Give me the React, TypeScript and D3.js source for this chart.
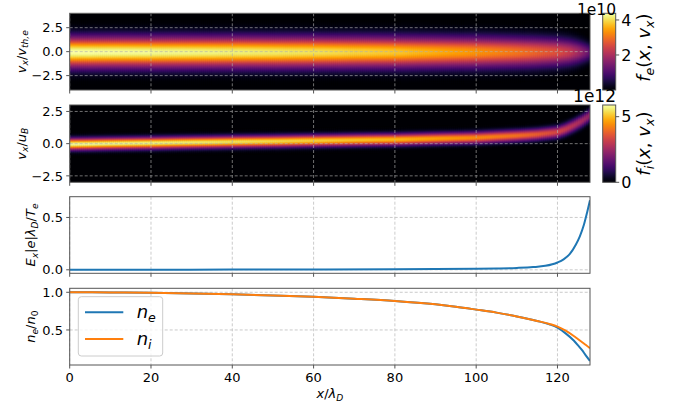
import React, { useMemo } from "react";
import * as d3 from "d3";

// ---------------- data ----------------
const X_TICKS = [0, 20, 40, 60, 80, 100, 120];
const X_DOMAIN = [0, 128];

// electron distribution: peak (×1e10) and thermal width along x
const feX = [0, 20, 40, 60, 80, 100, 110, 115, 120, 123, 125, 127, 128];
const fePeak = [4.38, 4.3, 4.2, 4.05, 3.8, 3.35, 3.05, 2.85, 2.6, 2.3, 1.95, 1.45, 1.15];
const feWidth = [1.05, 1.05, 1.05, 1.05, 1.05, 1.04, 1.02, 1.0, 0.96, 0.9, 0.82, 0.7, 0.62];
const FE_MAX = 4.38;

// ion distribution: peak (×1e12), mean velocity (u_B) and width along x
const fiX = [0, 20, 40, 60, 80, 100, 110, 115, 120, 122, 124, 126, 128];
const fiPeak = [5.85, 5.7, 5.5, 5.25, 4.95, 4.4, 4.05, 3.75, 3.35, 3.1, 2.85, 2.6, 2.3];
const fiMean = [0, 0.09, 0.18, 0.27, 0.36, 0.5, 0.66, 0.76, 0.93, 1.15, 1.45, 1.8, 2.25];
const fiWidth = [0.3, 0.3, 0.3, 0.3, 0.3, 0.3, 0.3, 0.3, 0.31, 0.32, 0.33, 0.34, 0.35];
const FI_MAX = 5.89;

// electric field
const eFieldX = [0, 20, 40, 60, 80, 90, 100, 105, 110, 114, 117, 120, 121.5, 123, 124.5, 125.5, 126.5, 127.3, 128];
const eField = [0, 0.001, 0.002, 0.003, 0.005, 0.007, 0.01, 0.013, 0.018, 0.026, 0.038, 0.07, 0.1, 0.15, 0.24, 0.32, 0.43, 0.55, 0.665];

// densities
const densX = [0, 10, 20, 30, 40, 50, 60, 70, 80, 90, 95, 100, 105, 110, 115, 118, 120, 122, 124, 125, 126, 127, 128];
const nI = [1.0, 0.998, 0.993, 0.985, 0.973, 0.958, 0.94, 0.915, 0.885, 0.84, 0.808, 0.77, 0.73, 0.68, 0.62, 0.58, 0.545, 0.49, 0.42, 0.38, 0.34, 0.3, 0.257];
const nE = [1.0, 0.998, 0.993, 0.985, 0.973, 0.958, 0.94, 0.915, 0.885, 0.84, 0.808, 0.77, 0.73, 0.68, 0.62, 0.575, 0.53, 0.455, 0.36, 0.3, 0.235, 0.16, 0.088];

// ---------------- layout ----------------
const FONT = "DejaVu Sans, sans-serif";
const X0 = 69.7, X1 = 590;
const P1 = [13.3, 90];
const P2 = [105, 182.3];
const P3 = [196.7, 273.3];
const P4 = [288.3, 365];
const CB_X0 = 602.7, CB_X1 = 615.7;
const SPINE = "#555";
const GRID = "#b0b0b0";
const BLUE = "#1f77b4";
const ORANGE = "#ff7f0e";

type Seg = { t: string; it?: boolean; sub?: boolean };

function MathText({ segs, size, ...rest }: { segs: Seg[]; size: number; [k: string]: any }) {
  let cur = 0;
  const shift = size * 0.22;
  return (
    <text fontFamily={FONT} fontSize={size} {...rest}>
      {segs.map((s, i) => {
        const target = s.sub ? shift : 0;
        const dy = target - cur;
        cur = target;
        return (
          <tspan key={i} dy={dy} fontStyle={s.it ? "italic" : "normal"} fontSize={s.sub ? size * 0.7 : size}>
            {s.t}
          </tspan>
        );
      })}
    </text>
  );
}

const x = d3.scaleLinear().domain(X_DOMAIN).range([X0, X1]);
const y1 = d3.scaleLinear().domain([-4, 4]).range([P1[1], P1[0]]);
const y2 = d3.scaleLinear().domain([-3, 3]).range([P2[1], P2[0]]);
const y3 = d3.scaleLinear().domain([-0.0333, 0.698]).range([P3[1], P3[0]]);
const y4 = d3.scaleLinear().domain([0.035, 1.053]).range([P4[1], P4[0]]);
const cb1 = d3.scaleLinear().domain([0, FE_MAX]).range([P1[1], P1[0]]);
const cb2 = d3.scaleLinear().domain([0, FI_MAX]).range([P2[1], P2[0]]);

function heatCells(
  peakS: d3.ScaleLinear<number, number>,
  meanS: ((v: number) => number) | null,
  widthS: d3.ScaleLinear<number, number>,
  vmin: number, vmax: number, dv: number, max: number,
  ys: d3.ScaleLinear<number, number>
) {
  const color = d3.scaleSequential(d3.interpolateInferno).domain([0, max]);
  const cells: { x: number; y: number; w: number; h: number; c: string }[] = [];
  const dx = 0.5;
  for (const xs of d3.range(0, 128, dx)) {
    const xc = xs + dx / 2;
    const p = peakS(xc), w = widthS(xc), m = meanS ? meanS(xc) : 0;
    for (const vs of d3.range(vmin, vmax - 1e-9, dv)) {
      const vc = vs + dv / 2;
      const val = p * Math.exp(-((vc - m) ** 2) / (2 * w * w));
      if (val / max < 0.004) continue;
      const px0 = x(xs), px1 = x(xs + dx);
      const py0 = ys(vs + dv), py1 = ys(vs);
      cells.push({ x: px0, y: py0, w: px1 - px0 + 0.6, h: py1 - py0 + 0.6, c: color(val) });
    }
  }
  return cells;
}

function Grid({ top, bottom, ys, yt }: { top: number; bottom: number; ys: any; yt: number[] }) {
  return (
    <g stroke={GRID} strokeWidth={0.8} strokeDasharray="3,2" opacity={0.8}>
      {X_TICKS.map((t) => (
        <line key={"gx" + t} x1={x(t)} x2={x(t)} y1={top} y2={bottom} />
      ))}
      {yt.map((t) => (
        <line key={"gy" + t} x1={X0} x2={X1} y1={ys(t)} y2={ys(t)} />
      ))}
    </g>
  );
}

function Axes({ top, bottom, ys, yt, ylab, showX }: any) {
  return (
    <g>
      <rect x={X0} y={top} width={X1 - X0} height={bottom - top} fill="none" stroke={SPINE} strokeWidth={1} />
      {X_TICKS.map((t) => (
        <g key={"tx" + t}>
          <line x1={x(t)} x2={x(t)} y1={bottom} y2={bottom + 3.5} stroke={SPINE} />
          {showX && (
            <text x={x(t)} y={382} textAnchor="middle" fontFamily={FONT} fontSize={13} fill="#000">
              {String(t)}
            </text>
          )}
        </g>
      ))}
      {yt.map((t: number, i: number) => (
        <g key={"ty" + t}>
          <line x1={X0 - 3.5} x2={X0} y1={ys(t)} y2={ys(t)} stroke={SPINE} />
          <text x={63} y={ys(t)} dy="0.36em" textAnchor="end" fontFamily={FONT} fontSize={13} fill="#000">
            {ylab[i]}
          </text>
        </g>
      ))}
    </g>
  );
}

export default function App() {
  const eCells = useMemo(
    () =>
      heatCells(
        d3.scaleLinear().domain(feX).range(fePeak),
        null,
        d3.scaleLinear().domain(feX).range(feWidth),
        -4, 4, 0.1, FE_MAX, y1
      ),
    []
  );
  const iCells = useMemo(
    () =>
      heatCells(
        d3.scaleLinear().domain(fiX).range(fiPeak),
        d3.scaleLinear().domain(fiX).range(fiMean),
        d3.scaleLinear().domain(fiX).range(fiWidth),
        -3, 3, 0.08, FI_MAX, y2
      ),
    []
  );

  const line3 = d3.line<number>().x((_, i) => x(eFieldX[i])).y((d) => y3(d)).curve(d3.curveMonotoneX);
  const line4 = d3.line<number>().x((_, i) => x(densX[i])).y((d) => y4(d)).curve(d3.curveMonotoneX);

  const stops = d3.range(0, 1.0001, 0.05);

  return (
    <svg width={690} height={411} style={{ position: "absolute", left: 0, top: 0, background: "#fff" }}>
      <defs>
        <linearGradient id="inf" x1="0" y1="1" x2="0" y2="0">
          {stops.map((s) => (
            <stop key={s} offset={s} stopColor={d3.interpolateInferno(s)} />
          ))}
        </linearGradient>
        <clipPath id="c1">
          <rect x={X0} y={P1[0]} width={X1 - X0} height={P1[1] - P1[0]} />
        </clipPath>
        <clipPath id="c2">
          <rect x={X0} y={P2[0]} width={X1 - X0} height={P2[1] - P2[0]} />
        </clipPath>
        <clipPath id="c3">
          <rect x={X0} y={P3[0]} width={X1 - X0} height={P3[1] - P3[0]} />
        </clipPath>
        <clipPath id="c4">
          <rect x={X0} y={P4[0]} width={X1 - X0} height={P4[1] - P4[0]} />
        </clipPath>
      </defs>

      {/* Panel 1 */}
      <g clipPath="url(#c1)">
        <rect x={X0} y={P1[0]} width={X1 - X0} height={P1[1] - P1[0]} fill={d3.interpolateInferno(0)} />
        {eCells.map((c, i) => (
          <rect key={i} x={c.x} y={c.y} width={c.w} height={c.h} fill={c.c} />
        ))}
      </g>
      <Grid top={P1[0]} bottom={P1[1]} ys={y1} yt={[-2.5, 0, 2.5]} />
      <Axes top={P1[0]} bottom={P1[1]} ys={y1} yt={[-2.5, 0, 2.5]} ylab={["\u22122.5", "0.0", "2.5"]} showX={false} />
      <MathText
        size={13}
        transform={`translate(25.5,${(P1[0] + P1[1]) / 2}) rotate(-90)`}
        textAnchor="middle"
        segs={[{ t: "v", it: true }, { t: "x", it: true, sub: true }, { t: "/" }, { t: "v", it: true }, { t: "th,e", it: true, sub: true }]}
      />

      {/* Panel 2 */}
      <g clipPath="url(#c2)">
        <rect x={X0} y={P2[0]} width={X1 - X0} height={P2[1] - P2[0]} fill={d3.interpolateInferno(0)} />
        {iCells.map((c, i) => (
          <rect key={i} x={c.x} y={c.y} width={c.w} height={c.h} fill={c.c} />
        ))}
      </g>
      <Grid top={P2[0]} bottom={P2[1]} ys={y2} yt={[-2.5, 0, 2.5]} />
      <Axes top={P2[0]} bottom={P2[1]} ys={y2} yt={[-2.5, 0, 2.5]} ylab={["\u22122.5", "0.0", "2.5"]} showX={false} />
      <MathText
        size={13}
        transform={`translate(25.5,${(P2[0] + P2[1]) / 2}) rotate(-90)`}
        textAnchor="middle"
        segs={[{ t: "v", it: true }, { t: "x", it: true, sub: true }, { t: "/" }, { t: "u", it: true }, { t: "B", it: true, sub: true }]}
      />

      {/* Panel 3 */}
      <Grid top={P3[0]} bottom={P3[1]} ys={y3} yt={[0, 0.5]} />
      <g clipPath="url(#c3)">
        <path d={line3(eField) || ""} fill="none" stroke={BLUE} strokeWidth={2} />
      </g>
      <Axes top={P3[0]} bottom={P3[1]} ys={y3} yt={[0, 0.5]} ylab={["0.0", "0.5"]} showX={false} />
      <MathText
        size={13}
        transform={`translate(35,${(P3[0] + P3[1]) / 2}) rotate(-90)`}
        textAnchor="middle"
        segs={[
          { t: "E", it: true },
          { t: "x", it: true, sub: true },
          { t: "|" },
          { t: "e", it: true },
          { t: "|" },
          { t: "λ", it: true },
          { t: "D", it: true, sub: true },
          { t: "/" },
          { t: "T", it: true },
          { t: "e", it: true, sub: true },
        ]}
      />

      {/* Panel 4 */}
      <Grid top={P4[0]} bottom={P4[1]} ys={y4} yt={[0.5, 1.0]} />
      <g clipPath="url(#c4)">
        <path d={line4(nE) || ""} fill="none" stroke={BLUE} strokeWidth={2} />
        <path d={line4(nI) || ""} fill="none" stroke={ORANGE} strokeWidth={2} />
      </g>
      <Axes top={P4[0]} bottom={P4[1]} ys={y4} yt={[0.5, 1.0]} ylab={["0.5", "1.0"]} showX={true} />
      <MathText
        size={13}
        transform={`translate(35,${(P4[0] + P4[1]) / 2}) rotate(-90)`}
        textAnchor="middle"
        segs={[{ t: "n", it: true }, { t: "e", it: true, sub: true }, { t: "/" }, { t: "n", it: true }, { t: "0", sub: true }]}
      />
      <MathText
        size={13}
        x={(X0 + X1) / 2}
        y={398}
        textAnchor="middle"
        segs={[{ t: "x", it: true }, { t: "/" }, { t: "λ", it: true }, { t: "D", it: true, sub: true }]}
      />

      {/* Legend */}
      <g>
        <rect x={78.3} y={296.7} width={84.4} height={59.3} rx={3} fill="#fff" fillOpacity={0.8} stroke="#cccccc" />
        <line x1={85} x2={123.3} y1={312.3} y2={312.3} stroke={BLUE} strokeWidth={2} />
        <line x1={85} x2={123.3} y1={339} y2={339} stroke={ORANGE} strokeWidth={2} />
        <MathText size={18} x={136.7} y={318} segs={[{ t: "n", it: true }, { t: "e", it: true, sub: true }]} />
        <MathText size={18} x={136.7} y={344.7} segs={[{ t: "n", it: true }, { t: "i", it: true, sub: true }]} />
      </g>

      {/* Colorbar 1 */}
      <rect x={CB_X0} y={P1[0]} width={CB_X1 - CB_X0} height={P1[1] - P1[0]} fill="url(#inf)" stroke={SPINE} strokeWidth={1} />
      {[2, 4].map((t) => (
        <g key={"cb1" + t}>
          <line x1={CB_X1} x2={CB_X1 + 3.5} y1={cb1(t)} y2={cb1(t)} stroke={SPINE} />
          <text x={CB_X1 + 5.5} y={cb1(t)} dy="0.36em" fontFamily={FONT} fontSize={16}>
            {String(t)}
          </text>
        </g>
      ))}
      <text x={616} y={14.5} textAnchor="end" fontFamily={FONT} fontSize={15.5}>
        1e10
      </text>
      <MathText
        size={18}
        transform={`translate(650,${(P1[0] + P1[1]) / 2 - 4}) rotate(-90)`}
        textAnchor="middle"
        segs={[{ t: "f", it: true }, { t: "e", it: true, sub: true }, { t: "(" }, { t: "x", it: true }, { t: ", " }, { t: "v", it: true }, { t: "x", it: true, sub: true }, { t: ")" }]}
      />

      {/* Colorbar 2 */}
      <rect x={CB_X0} y={P2[0]} width={CB_X1 - CB_X0} height={P2[1] - P2[0]} fill="url(#inf)" stroke={SPINE} strokeWidth={1} />
      {[0, 5].map((t) => (
        <g key={"cb2" + t}>
          <line x1={CB_X1} x2={CB_X1 + 3.5} y1={cb2(t)} y2={cb2(t)} stroke={SPINE} />
          <text x={CB_X1 + 5.5} y={cb2(t)} dy="0.36em" fontFamily={FONT} fontSize={16}>
            {String(t)}
          </text>
        </g>
      ))}
      <text x={616} y={101.5} textAnchor="end" fontFamily={FONT} fontSize={17}>
        1e12
      </text>
      <MathText
        size={18}
        transform={`translate(650,${(P2[0] + P2[1]) / 2}) rotate(-90)`}
        textAnchor="middle"
        segs={[{ t: "f", it: true }, { t: "i", it: true, sub: true }, { t: "(" }, { t: "x", it: true }, { t: ", " }, { t: "v", it: true }, { t: "x", it: true, sub: true }, { t: ")" }]}
      />
    </svg>
  );
}
